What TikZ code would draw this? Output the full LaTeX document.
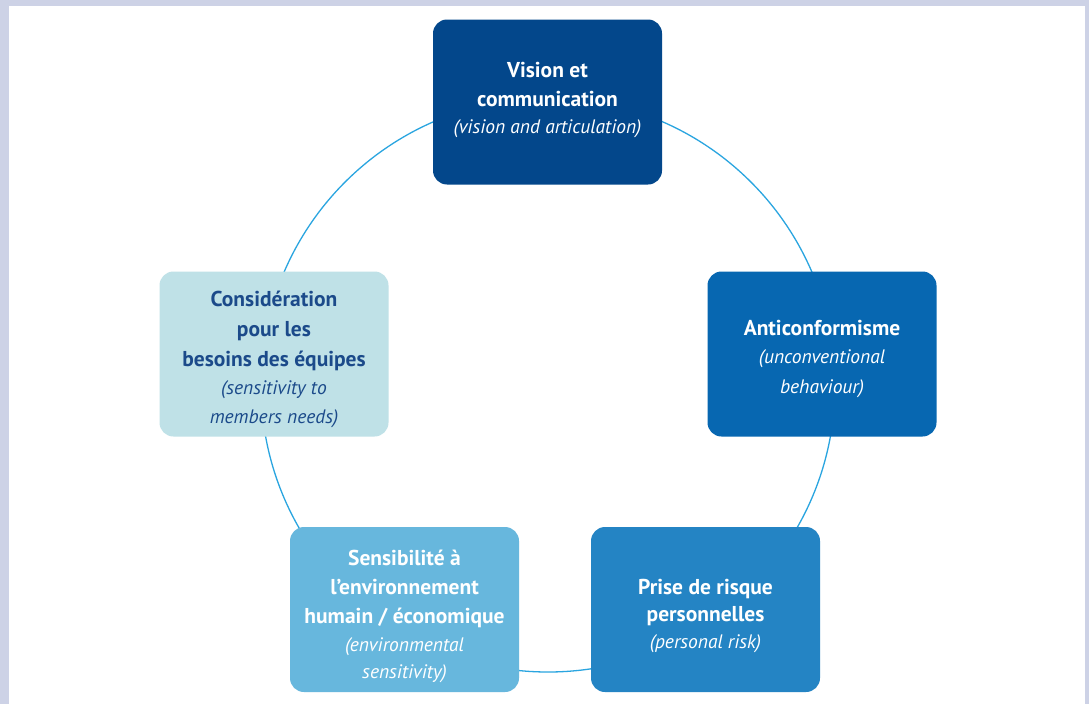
\documentclass[tikz,border=0pt]{standalone}
\usepackage{fontspec}
\setmainfont{PT Sans}
\definecolor{frame}{HTML}{CDD2E6}
\definecolor{ringblue}{HTML}{2AA5E0}
\definecolor{navy}{HTML}{03478B}
\definecolor{royal}{HTML}{0767B1}
\definecolor{midblue}{HTML}{2484C4}
\definecolor{skyblue}{HTML}{67B7DD}
\definecolor{paleblue}{HTML}{BFE1E7}
\definecolor{inkblue}{HTML}{1B4A8A}
\newcommand\mainline{\bfseries\fontsize{21.5}{29}\selectfont}
\newcommand\subline{\mdseries\itshape\fontsize{19.5}{25}\selectfont}
\begin{document}
\begin{tikzpicture}[x=1pt,y=-1pt,
  card/.style={rounded corners=14pt, minimum width=229pt, minimum height=165pt,
    align=center, text=white, inner sep=0pt, font=\mainline},
  ring/.style={draw=ringblue, line width=1.3pt}]
  % page frame
  \fill[frame] (0,0) rectangle (1089,704);
  \fill[white] (9,6) rectangle (1085,704);
  \useasboundingbox (0,0) rectangle (1089,704);

  % ring linking the five qualities
  \coordinate (hub) at (548,385);
  \draw[ring] (hub) circle[radius=287];

  % the five qualities
  \node[card, fill=navy] (vision) at (547.5,102)
    {\\[-18pt]Vision et\\communication\\[-2pt]{\subline (vision and articulation)}};
  \node[card, fill=royal] (anti) at (822,354)
    {\\[-4pt]Anticonformisme\\[-1pt]{\subline (unconventional}\\[1pt]{\subline behaviour)}};
  \node[card, fill=paleblue, text=inkblue] (consid) at (274,354)
    {\\[-2pt]Considération\\[1pt]pour les\\[1pt]besoins des équipes\\[-1pt]{\subline (sensitivity to}\\[0pt]{\subline members needs)}};
  \node[card, fill=skyblue] (sensib) at (404.5,609.5)
    {\\[0pt]Sensibilité à\\l’environnement\\humain / économique\\[-1pt]{\subline (environmental}\\[-2pt]{\subline sensitivity)}};
  \node[card, fill=midblue] (risk) at (705.5,609.5)
    {\\[0pt]Prise de risque\\[-2pt]personnelles\\[-2pt]{\subline (personal risk)}};
\end{tikzpicture}
\end{document}
